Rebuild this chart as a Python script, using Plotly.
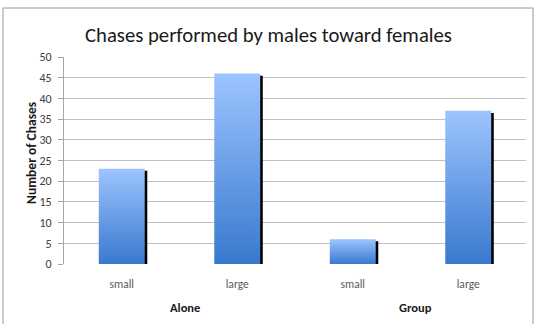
import plotly.graph_objects as go

# Chase counts per condition
categories = ["small", "large", "small", "large"]
groups = ["Alone", "Group"]
chases = [23, 46, 6, 37]

y_ticks = list(range(0, 51, 5))

FONT = "Carlito, Lato, sans-serif"
BAR_W = 0.398
SHADOW_DX = 0.022
SHADOW_DY = 0.5
BAR_TOP = "#9DC4FF"
BAR_BOTTOM = "#3879CE"

fig = go.Figure()

for i, v in enumerate(chases):
    # drop shadow behind each bar
    x0, x1 = i - BAR_W / 2 + SHADOW_DX, i + BAR_W / 2 + SHADOW_DX
    top = max(v - SHADOW_DY, 0)
    fig.add_trace(go.Scatter(
        x=[x0, x1, x1, x0, x0], y=[0, 0, top, top, 0],
        mode="lines", line=dict(width=0), fill="toself",
        fillcolor="#000000", hoverinfo="skip", showlegend=False,
    ))
    # gradient-filled bar
    x0, x1 = i - BAR_W / 2, i + BAR_W / 2
    fig.add_trace(go.Scatter(
        x=[x0, x1, x1, x0, x0], y=[0, 0, v, v, 0],
        mode="lines", line=dict(width=0), fill="toself",
        fillgradient=dict(type="vertical",
                          colorscale=[[0, BAR_BOTTOM], [1, BAR_TOP]]),
        hoverinfo="skip", showlegend=False,
    ))

fig.update_layout(
    width=534, height=324,
    margin=dict(l=64, r=8, t=57, b=60),
    paper_bgcolor="white", plot_bgcolor="white",
    font=dict(family=FONT, color="#404040"),
    title=dict(text="Chases performed by males toward females",
               font=dict(family=FONT, size=20.7, color="#1a1a1a"),
               x=(268.5 / 534), xanchor="center",
               y=1 - 35 / 324, yanchor="middle"),
    xaxis=dict(range=[-0.5, 3.5], tickvals=list(range(len(categories))),
               ticktext=categories, showgrid=False, zeroline=False,
               showline=False, ticks="", ticklabelstandoff=11,
               tickfont=dict(size=11.5, color="#595959", family=FONT),
               fixedrange=True),
    yaxis=dict(range=[0, 50], tickvals=y_ticks, showgrid=True,
               gridcolor="#C0C0C0", gridwidth=1, zeroline=False,
               showline=True, linecolor="#A6A6A6", linewidth=1,
               ticks="outside", ticklen=5, tickcolor="#A6A6A6",
               ticklabelstandoff=4,
               tickfont=dict(size=12, color="#404040", family=FONT),
               fixedrange=True),
)

# group labels beneath the category labels
for gi, name in enumerate(groups):
    fig.add_annotation(text=f"<b>{name}</b>", xref="x", yref="paper",
                       x=gi * 2 + 0.545, y=(264 - 307) / 207,
                       showarrow=False, xanchor="center", yanchor="middle",
                       font=dict(size=12.5, color="#1a1a1a", family=FONT))

fig.add_annotation(text="<b>Number of Chases</b>", xref="paper", yref="paper",
                   x=(31 - 64) / 462, y=(264 - 153) / 207, textangle=-90,
                   showarrow=False, xanchor="center", yanchor="middle",
                   font=dict(size=13.5, color="#1a1a1a", family=FONT))

# chart frame
fig.add_shape(type="rect", xref="paper", yref="paper",
              x0=(3 - 64) / 462, x1=(533 - 64) / 462,
              y0=-0.6, y1=1 + (57 - 8) / 207,
              line=dict(color="#9A9A9A", width=1), layer="below")

fig.write_html("out.html")
